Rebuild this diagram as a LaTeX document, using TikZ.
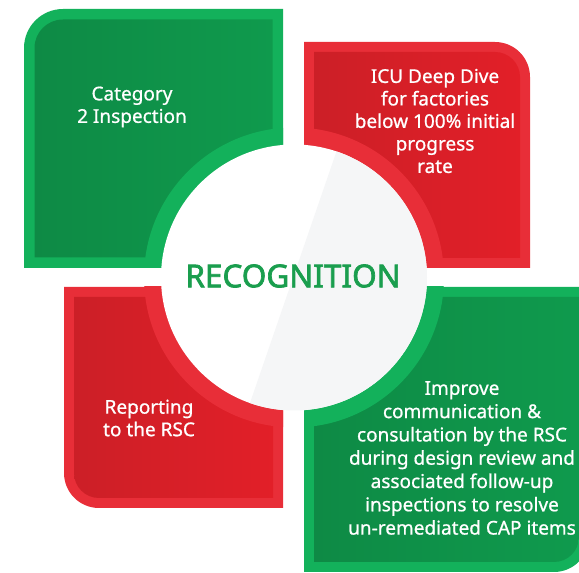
\documentclass[tikz,border=0pt]{standalone}
\usepackage{fontspec}
\setmainfont{Noto Sans}
\newfontfamily\tilefont{Noto Sans}[FakeBold=0.8]
\newfontfamily\hubfont{Noto Sans}[FakeBold=2.2]
\usepackage{tikz}
\usetikzlibrary{positioning}
\definecolor{tilegreen}{HTML}{0E8A45}
\definecolor{tilegreenlight}{HTML}{0F9A4D}
\definecolor{bandgreen}{HTML}{13B15B}
\definecolor{tilered}{HTML}{CC1F27}
\definecolor{tileredlight}{HTML}{E21F28}
\definecolor{bandred}{HTML}{E82E38}
\definecolor{hubgray}{HTML}{F5F6F7}
\definecolor{hubtextgreen}{HTML}{1A9E4E}

\begin{document}
\begin{tikzpicture}[
		x=1pt, y=1pt,
		greenband/.style = {fill=bandgreen},
		greenfill/.style = {left color=tilegreen, right color=tilegreenlight},
		redband/.style = {fill=bandred},
		redfill/.style = {left color=tilered, right color=tileredlight},
		tiletext/.style = {text=white, align=center, font=\tilefont\fontsize{19}{22.5}\selectfont},
		hub/.style = {circle, fill=white, minimum size=266pt, inner sep=0pt},
		hubtext/.style = {text=hubtextgreen, font=\hubfont\fontsize{31.5}{36}\selectfont}
		]
		\useasboundingbox (0,0) rectangle (579,573);
		\clip (0,0) rectangle (579,573);
		\coordinate (c) at (294,295.5);
		
		% top left tile
		\fill[greenband] (24,305) -- (24,525) arc[start angle=180, end angle=90, radius=39] -- (283,564) -- (283,305) -- cycle;
		\shade[greenfill] (34.5,315.5) -- (34.5,525) arc[start angle=180, end angle=90, radius=28.5] -- (272.5,553.5) -- (272.5,315.5) -- cycle;
		\begin{scope}
			\clip (24,305) rectangle (283,564);
			\fill[greenband] (c) circle (150);
		\end{scope}
		
		% top right tile
		\fill[redband] (304,305) -- (304,531) -- (495,531) arc[start angle=90, end angle=0, radius=35] -- (530,305) -- cycle;
		\shade[redfill] (314,315) -- (314,521) -- (495,521) arc[start angle=90, end angle=0, radius=25] -- (520,315) -- cycle;
		\begin{scope}
			\clip (304,305) rectangle (530,531);
			\fill[redband] (c) circle (150);
		\end{scope}
		
		% bottom left tile
		\fill[redband] (283,286) -- (64,286) -- (64,100) arc[start angle=180, end angle=270, radius=35] -- (283,65) -- cycle;
		\shade[redfill] (273,276) -- (74,276) -- (74,100) arc[start angle=180, end angle=270, radius=25] -- (273,75) -- cycle;
		\begin{scope}
			\clip (64,65) rectangle (283,286);
			\fill[redband] (c) circle (150);
		\end{scope}
		
		% bottom right tile
		\fill[greenband] (304,286) -- (589,286) -- (589,36) arc[start angle=0, end angle=-90, radius=35] -- (304,1) -- cycle;
		\shade[greenfill] (314,276) -- (579,276) -- (579,36) arc[start angle=0, end angle=-90, radius=25] -- (314,11) -- cycle;
		\begin{scope}
			\clip (304,1) rectangle (589,286);
			\fill[greenband] (c) circle (150);
		\end{scope}
		
		% centre
		\node [hub] (hubcircle) at (c) {};
		\begin{scope}
			\clip (c) circle (133);
			\fill[hubgray] (76,-336) -- (424,676) -- (700,676) -- (700,-336) -- cycle;
		\end{scope}
		\node [hubtext] (recognition) at (293,297) {RECOGNITION};
		
		\node [tiletext] (category) at (132,466) {Category\\2 Inspection};
		\node [tiletext] (icu) at (435,452) {ICU Deep Dive\\for factories\\below 100\% initial\\progress\\rate};
		\node [tiletext] (reporting) at (149,155) {Reporting\\to the RSC};
		\node [tiletext, font=\tilefont\fontsize{19}{23.3}\selectfont] (improve) at (462,115) {Improve\\communication \&\\consultation by the RSC\\during design review and\\associated follow-up\\inspections to resolve\\un-remediated CAP items};
		
	\end{tikzpicture}
\end{document}
